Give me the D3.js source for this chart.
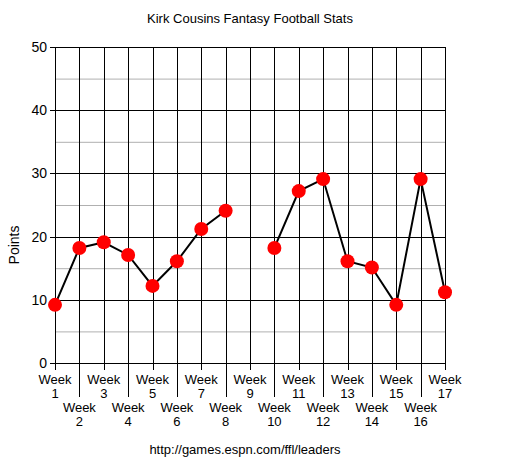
<!DOCTYPE html>
<html><head><meta charset="utf-8">
<script src="https://cdn.jsdelivr.net/npm/d3@7"></script>
<style>body{margin:0;background:#fff}svg{display:block}text{font-family:"Liberation Sans",Arial,sans-serif;fill:#000}</style>
</head><body><svg id="c" width="509" height="463"></svg>
<script>
const weeks = [1,2,3,4,5,6,7,8,9,10,11,12,13,14,15,16,17];
const points = [9.2,18.2,19.1,17.1,12.2,16.1,21.2,24.1,null,18.2,27.2,29.1,16.1,15.1,9.2,29.1,11.2];
const yTicks = [0,10,20,30,40,50];
const yMinor = [5,15,25,35,45];
const title = "Kirk Cousins Fantasy Football Stats";
const yLabel = "Points";
const source = "http://games.espn.com/ffl/leaders";

const svg = d3.select("#c");
const x = d3.scaleLinear().domain([1,17]).range([55,445]);
const y = d3.scaleLinear().domain([0,50]).range([363,47]);

// minor gridlines
svg.append("g").selectAll("line").data(yMinor).join("line")
  .attr("x1",x(1)).attr("x2",x(17)).attr("y1",d=>y(d)+0.5).attr("y2",d=>y(d)+0.5)
  .attr("stroke","#b0b0b0").attr("stroke-width",1);
// major gridlines
svg.append("g").selectAll("line").data(yTicks).join("line")
  .attr("x1",x(1)-5).attr("x2",x(17)).attr("y1",d=>Math.round(y(d))+0.5).attr("y2",d=>Math.round(y(d))+0.5)
  .attr("stroke","#000").attr("stroke-width",1);
// vertical lines
svg.append("g").selectAll("line").data(weeks).join("line")
  .attr("x1",d=>Math.round(x(d))+0.5).attr("x2",d=>Math.round(x(d))+0.5)
  .attr("y1",y(50)).attr("y2",d=>d%2===1?370:397)
  .attr("stroke","#000").attr("stroke-width",1);
// y labels
svg.append("g").selectAll("text").data(yTicks).join("text")
  .attr("x",x(1)-8).attr("y",d=>y(d)+5).attr("text-anchor","end").attr("font-size",14).text(d=>d);
// x labels
const xl = svg.append("g").selectAll("text").data(weeks).join("text")
  .attr("text-anchor","middle").attr("font-size",13);
xl.append("tspan").attr("x",d=>x(d)).attr("y",d=>d%2===1?384:412).text("Week");
xl.append("tspan").attr("x",d=>x(d)).attr("y",d=>d%2===1?398:426).text(d=>d);

// line
const line = d3.line().defined(d=>d.v!=null).x(d=>x(d.w)).y(d=>y(d.v));
const data = weeks.map((w,i)=>({w,v:points[i]}));
svg.append("path").datum(data).attr("d",line).attr("fill","none").attr("stroke","#000").attr("stroke-width",2);
svg.append("g").selectAll("circle").data(data.filter(d=>d.v!=null)).join("circle")
  .attr("cx",d=>x(d.w)).attr("cy",d=>y(d.v)).attr("r",7).attr("fill","#f00");

svg.append("text").attr("x",250).attr("y",23).attr("text-anchor","middle").attr("font-size",13).text(title);
svg.append("text").attr("transform","translate(19,245) rotate(-90)").attr("text-anchor","middle").attr("font-size",14).text(yLabel);
svg.append("text").attr("x",245).attr("y",454).attr("text-anchor","middle").attr("font-size",13).text(source);
</script></body></html>
